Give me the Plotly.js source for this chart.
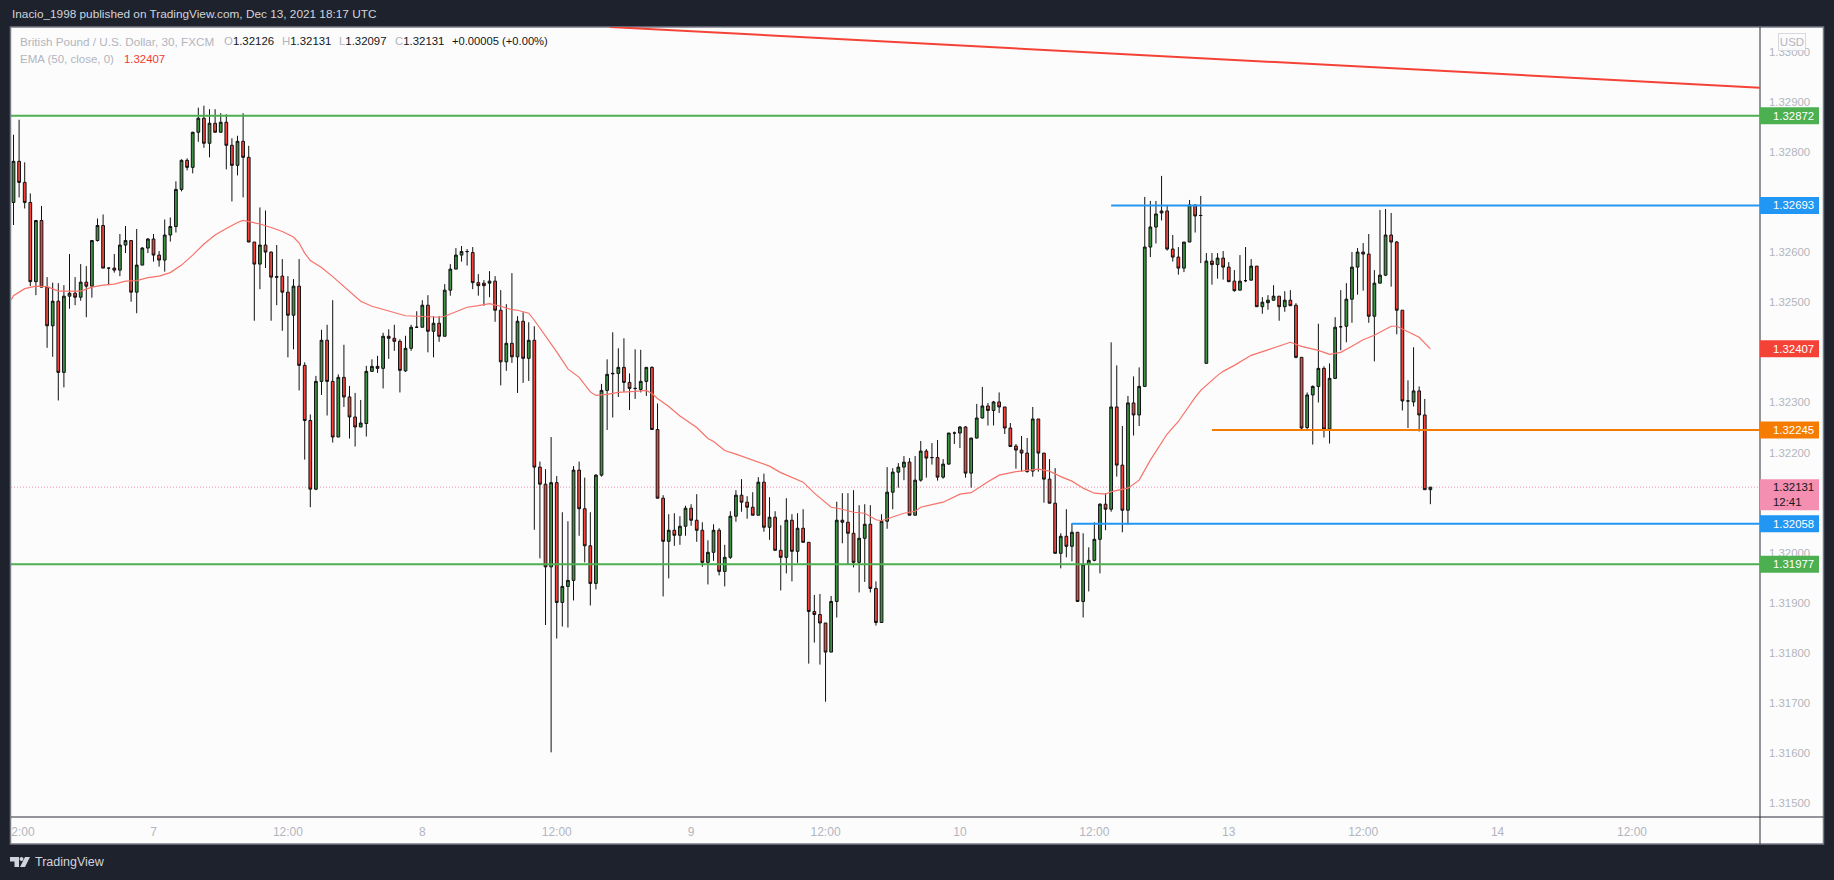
<!DOCTYPE html>
<html>
<head>
<meta charset="utf-8">
<script src="https://cdn.plot.ly/plotly-3.0.1.min.js"></script>
<style>
  html, body { margin: 0; padding: 0; background: #1e222d; }
  #chart { width: 1834px; height: 880px; }
</style>
</head>
<body>
<div id="chart"></div>
<script>
// GBP/USD 30 minute bars (bar 0 is the first one on the left)
const opens = [
  1.32699,1.32781,1.32739,1.32699,1.32541,1.32663,1.32530,1.32453,1.32502,1.32360,
  1.32512,1.32518,1.32510,1.32540,1.32532,1.32623,1.32653,1.32568,1.32568,1.32564,
  1.32614,1.32623,1.32520,1.32574,1.32608,1.32626,1.32594,1.32584,1.32634,1.32651,
  1.32725,1.32783,1.32769,1.32839,1.32867,1.32817,1.32857,1.32839,1.32859,1.32813,
  1.32773,1.32821,1.32789,1.32620,1.32576,1.32614,1.32600,1.32551,1.32552,1.32520,
  1.32474,1.32532,1.32374,1.32264,1.32127,1.32342,1.32424,1.32342,1.32231,1.32350,
  1.32311,1.32271,1.32251,1.32258,1.32362,1.32372,1.32368,1.32432,1.32428,1.32422,
  1.32363,1.32408,1.32450,1.32450,1.32494,1.32442,1.32458,1.32432,1.32524,1.32566,
  1.32594,1.32601,1.32599,1.32539,1.32538,1.32538,1.32542,1.32484,1.32381,1.32418,
  1.32391,1.32462,1.32388,1.32424,1.32171,1.32137,1.31972,1.32140,1.31901,1.31933,
  1.31945,1.32165,1.32088,1.32014,1.31939,1.32155,1.32324,1.32357,1.32358,1.32370,
  1.32340,1.32328,1.32326,1.32342,1.32370,1.32246,1.32109,1.32023,1.32045,1.32035,
  1.32053,1.32089,1.32065,1.32045,1.31981,1.32001,1.32045,1.31963,1.31991,1.32073,
  1.32115,1.32101,1.32091,1.32075,1.32141,1.32051,1.32071,1.32005,1.31991,1.32065,
  1.32003,1.32049,1.32021,1.31883,1.31877,1.31860,1.31802,1.31903,1.32065,1.32061,
  1.32039,1.31981,1.32029,1.32057,1.31929,1.31861,1.32063,1.32121,1.32161,1.32171,
  1.32181,1.32075,1.32145,1.32203,1.32190,1.32190,1.32151,1.32177,1.32239,1.32239,
  1.32251,1.32159,1.32229,1.32269,1.32293,1.32284,1.32301,1.32291,1.32249,1.32213,
  1.32205,1.32199,1.32163,1.32267,1.32199,1.32147,1.32099,1.31999,1.32033,1.32013,
  1.32041,1.31903,1.31977,1.31985,1.32027,1.32097,1.32087,1.32291,1.32175,1.32085,
  1.32299,1.32275,1.32332,1.32610,1.32650,1.32678,1.32682,1.32606,1.32590,1.32568,
  1.32620,1.32694,1.32673,1.32378,1.32582,1.32575,1.32588,1.32570,1.32542,1.32524,
  1.32543,1.32544,1.32572,1.32491,1.32499,1.32504,1.32512,1.32491,1.32504,1.32494,
  1.32390,1.32250,1.32315,1.32332,1.32368,1.32247,1.32348,1.32451,1.32452,1.32506,
  1.32570,1.32600,1.32596,1.32472,1.32538,1.32554,1.32634,1.32620,1.32484,1.32303,
  1.32301,1.32323,1.32275,1.32126];
const highs = [
  1.32834,1.32864,1.32779,1.32717,1.32664,1.32692,1.32550,1.32539,1.32538,1.32534,
  1.32596,1.32550,1.32576,1.32572,1.32624,1.32667,1.32675,1.32568,1.32596,1.32636,
  1.32652,1.32623,1.32646,1.32610,1.32628,1.32636,1.32602,1.32665,1.32669,1.32741,
  1.32785,1.32787,1.32840,1.32888,1.32892,1.32885,1.32885,1.32877,1.32875,1.32827,
  1.32832,1.32877,1.32812,1.32620,1.32689,1.32683,1.32601,1.32614,1.32586,1.32552,
  1.32546,1.32586,1.32380,1.32276,1.32353,1.32445,1.32455,1.32504,1.32356,1.32415,
  1.32333,1.32319,1.32305,1.32373,1.32386,1.32393,1.32439,1.32446,1.32455,1.32426,
  1.32433,1.32455,1.32482,1.32504,1.32514,1.32472,1.32472,1.32536,1.32576,1.32608,
  1.32612,1.32606,1.32610,1.32556,1.32544,1.32562,1.32552,1.32524,1.32496,1.32558,
  1.32472,1.32480,1.32460,1.32452,1.32182,1.32167,1.32231,1.32153,1.32081,1.32063,
  1.32173,1.32182,1.32150,1.32081,1.32157,1.32337,1.32386,1.32440,1.32408,1.32428,
  1.32358,1.32406,1.32405,1.32370,1.32372,1.32298,1.32115,1.32077,1.32079,1.32073,
  1.32094,1.32097,1.32117,1.32061,1.32025,1.32057,1.32049,1.32016,1.32083,1.32125,
  1.32147,1.32113,1.32121,1.32151,1.32158,1.32111,1.32083,1.32055,1.32109,1.32077,
  1.32079,1.32087,1.32021,1.31916,1.31918,1.31860,1.31914,1.32102,1.32119,1.32119,
  1.32125,1.32095,1.32097,1.32095,1.31943,1.32077,1.32171,1.32169,1.32179,1.32193,
  1.32189,1.32193,1.32223,1.32207,1.32219,1.32225,1.32187,1.32239,1.32242,1.32253,
  1.32253,1.32229,1.32297,1.32331,1.32299,1.32303,1.32320,1.32291,1.32259,1.32217,
  1.32233,1.32229,1.32291,1.32267,1.32199,1.32187,1.32169,1.32039,1.32087,1.32059,
  1.32041,1.32039,1.32011,1.32061,1.32099,1.32119,1.32420,1.32374,1.32253,1.32313,
  1.32352,1.32370,1.32710,1.32702,1.32702,1.32752,1.32694,1.32634,1.32610,1.32620,
  1.32704,1.32694,1.32712,1.32598,1.32598,1.32598,1.32602,1.32580,1.32564,1.32594,
  1.32610,1.32586,1.32572,1.32510,1.32514,1.32534,1.32512,1.32522,1.32524,1.32498,
  1.32390,1.32320,1.32334,1.32457,1.32372,1.32378,1.32470,1.32524,1.32538,1.32600,
  1.32608,1.32618,1.32636,1.32564,1.32684,1.32686,1.32678,1.32622,1.32484,1.32344,
  1.32410,1.32332,1.32307,1.32131];
const lows = [
  1.32654,1.32709,1.32687,1.32532,1.32514,1.32530,1.32409,1.32391,1.32304,1.32330,
  1.32487,1.32494,1.32503,1.32470,1.32509,1.32621,1.32568,1.32534,1.32559,1.32552,
  1.32598,1.32501,1.32478,1.32574,1.32598,1.32581,1.32571,1.32561,1.32621,1.32639,
  1.32721,1.32763,1.32757,1.32820,1.32808,1.32789,1.32839,1.32839,1.32765,1.32701,
  1.32753,1.32709,1.32620,1.32463,1.32526,1.32568,1.32463,1.32494,1.32443,1.32390,
  1.32406,1.32324,1.32186,1.32091,1.32125,1.32315,1.32274,1.32220,1.32231,1.32291,
  1.32228,1.32212,1.32251,1.32232,1.32361,1.32359,1.32328,1.32387,1.32403,1.32320,
  1.32361,1.32403,1.32450,1.32450,1.32400,1.32390,1.32421,1.32432,1.32513,1.32566,
  1.32581,1.32573,1.32526,1.32513,1.32493,1.32510,1.32461,1.32334,1.32363,1.32379,
  1.32319,1.32339,1.32343,1.32046,1.31989,1.31856,1.31602,1.31829,1.31853,1.31851,
  1.31905,1.32034,1.31981,1.31895,1.31927,1.32152,1.32245,1.32270,1.32311,1.32321,
  1.32285,1.32307,1.32320,1.32313,1.32246,1.32109,1.31913,1.31949,1.32014,1.32016,
  1.32034,1.32054,1.32022,1.31972,1.31937,1.31984,1.31955,1.31933,1.31988,1.32062,
  1.32082,1.32068,1.32075,1.32075,1.32042,1.32026,1.32005,1.31925,1.31959,1.31943,
  1.31980,1.32021,1.31779,1.31821,1.31777,1.31703,1.31802,1.31871,1.32019,1.31976,
  1.31971,1.31921,1.31942,1.31921,1.31855,1.31861,1.32048,1.32087,1.32130,1.32145,
  1.32075,1.32075,1.32142,1.32150,1.32176,1.32144,1.32148,1.32176,1.32217,1.32209,
  1.32150,1.32130,1.32228,1.32268,1.32254,1.32254,1.32279,1.32237,1.32212,1.32168,
  1.32162,1.32160,1.32152,1.32162,1.32100,1.32099,1.31999,1.31969,1.31991,1.31983,
  1.31903,1.31871,1.31923,1.31983,1.31959,1.32045,1.32082,1.32152,1.32041,1.32056,
  1.32234,1.32253,1.32332,1.32590,1.32617,1.32663,1.32603,1.32581,1.32555,1.32560,
  1.32620,1.32639,1.32578,1.32378,1.32535,1.32547,1.32545,1.32540,1.32521,1.32524,
  1.32540,1.32543,1.32491,1.32477,1.32485,1.32503,1.32463,1.32481,1.32493,1.32388,
  1.32246,1.32244,1.32216,1.32300,1.32230,1.32218,1.32347,1.32404,1.32420,1.32459,
  1.32515,1.32523,1.32459,1.32382,1.32538,1.32552,1.32531,1.32436,1.32284,1.32249,
  1.32292,1.32242,1.32126,1.32097];
const closes = [
  1.32781,1.32739,1.32699,1.32541,1.32663,1.32530,1.32453,1.32502,1.32360,1.32512,
  1.32518,1.32510,1.32540,1.32532,1.32623,1.32653,1.32568,1.32568,1.32564,1.32614,
  1.32623,1.32520,1.32574,1.32608,1.32626,1.32594,1.32584,1.32634,1.32651,1.32725,
  1.32783,1.32769,1.32839,1.32867,1.32817,1.32857,1.32839,1.32859,1.32813,1.32773,
  1.32821,1.32789,1.32620,1.32576,1.32614,1.32600,1.32550,1.32550,1.32520,1.32474,
  1.32532,1.32374,1.32264,1.32127,1.32342,1.32424,1.32342,1.32231,1.32350,1.32311,
  1.32271,1.32251,1.32259,1.32362,1.32372,1.32368,1.32432,1.32428,1.32422,1.32364,
  1.32408,1.32450,1.32450,1.32494,1.32442,1.32458,1.32432,1.32524,1.32566,1.32594,
  1.32601,1.32601,1.32539,1.32533,1.32533,1.32542,1.32484,1.32381,1.32418,1.32391,
  1.32462,1.32388,1.32424,1.32171,1.32137,1.31972,1.32140,1.31901,1.31933,1.31945,
  1.32165,1.32088,1.32014,1.31939,1.32155,1.32324,1.32356,1.32358,1.32370,1.32340,
  1.32328,1.32328,1.32342,1.32370,1.32246,1.32109,1.32023,1.32045,1.32035,1.32053,
  1.32089,1.32065,1.32045,1.31981,1.32001,1.32045,1.31963,1.31991,1.32073,1.32115,
  1.32101,1.32091,1.32075,1.32141,1.32051,1.32071,1.32005,1.31991,1.32065,1.32003,
  1.32049,1.32021,1.31883,1.31877,1.31860,1.31802,1.31903,1.32065,1.32061,1.32039,
  1.31981,1.32029,1.32057,1.31929,1.31861,1.32063,1.32121,1.32161,1.32171,1.32181,
  1.32075,1.32145,1.32203,1.32189,1.32190,1.32151,1.32177,1.32239,1.32239,1.32251,
  1.32159,1.32229,1.32269,1.32293,1.32284,1.32301,1.32291,1.32249,1.32212,1.32205,
  1.32199,1.32162,1.32267,1.32199,1.32147,1.32099,1.31999,1.32033,1.32013,1.32041,
  1.31903,1.31977,1.31985,1.32027,1.32097,1.32087,1.32291,1.32175,1.32085,1.32299,
  1.32275,1.32332,1.32610,1.32650,1.32676,1.32682,1.32606,1.32590,1.32568,1.32620,
  1.32694,1.32672,1.32673,1.32582,1.32575,1.32588,1.32570,1.32541,1.32523,1.32542,
  1.32543,1.32572,1.32491,1.32500,1.32504,1.32512,1.32491,1.32504,1.32493,1.32390,
  1.32249,1.32315,1.32332,1.32368,1.32247,1.32348,1.32450,1.32451,1.32506,1.32570,
  1.32600,1.32596,1.32472,1.32538,1.32554,1.32634,1.32620,1.32484,1.32303,1.32303,
  1.32323,1.32275,1.32126,1.32131];

// EMA 50 line, read at these bars
const emaBars = [-0.4,0,2,4,6,8,10,12,14,16,18,20,22,24,26,28,30,32,34,36,38,40,41,42,44,46,48,50,51,52,53,54,
  55,57,59,61,62,64,66,68,70,72,76,77,79,81,83,85,87,89,90,92,93,95,97,99,101,103,104,
  106,108,111,113,114,115,117,119,122,124,125,127,129,131,133,135,137,139,141,143,145,146,148,150,152,154,155,157,159,161,
  162,164,166,169,171,174,176,179,183,185,187,189,191,193,195,196,198,199,201,203,206,208,211,212,215,
  216,218,221,224,228,230,233,235,237,239,241,243,246,247,249,251,253];
const emaValues = [1.32505,1.32513,1.32527,1.32532,1.32531,1.32522,1.32522,1.32522,1.32530,1.32534,1.32536,1.32542,1.32543,1.32549,1.32552,1.32559,1.32574,1.32594,1.32616,1.32634,1.32647,1.32659,1.32663,1.32661,1.32656,1.32649,1.32641,1.32630,1.32618,1.32598,1.32583,1.32576,
  1.32569,1.32551,1.32531,1.32512,1.32502,1.32492,1.32486,1.32480,1.32473,1.32472,1.32470,1.32472,1.32481,1.32490,1.32493,1.32497,1.32492,1.32485,1.32484,1.32478,1.32464,1.32433,1.32401,1.32367,1.32350,1.32321,1.32314,
  1.32316,1.32320,1.32322,1.32324,1.32318,1.32308,1.32292,1.32273,1.32250,1.32228,1.32222,1.32204,1.32197,1.32189,1.32182,1.32173,1.32160,1.32151,1.32141,1.32119,1.32099,1.32091,1.32087,1.32081,1.32079,1.32066,1.32064,1.32072,1.32079,1.32083,
  1.32091,1.32096,1.32101,1.32117,1.32120,1.32142,1.32155,1.32162,1.32167,1.32163,1.32152,1.32143,1.32129,1.32119,1.32117,1.32122,1.32126,1.32129,1.32145,1.32185,1.32237,1.32262,1.32310,1.32324,1.32354,
  1.32362,1.32374,1.32394,1.32405,1.32420,1.32412,1.32404,1.32396,1.32400,1.32412,1.32425,1.32434,1.32452,1.32452,1.32441,1.32430,1.32407];

// drawn levels: price, first bar, colour
const levelPrices = [1.32872, 1.32693, 1.32245, 1.32058, 1.31977];
const levelStarts = [-0.45, 196, 214, 189, -0.45];
const levelColors = ["#4caf50", "#2196f3", "#f57c00", "#2196f3", "#4caf50"];
const trendBars = [106.5, 311.9];
const trendPrices = [1.33049, 1.32928];
const lastPrice = 1.32131;
const emaLast = 1.32407;

// 1.327, 1.324 and 1.321 sit under the badges, the scale leaves them out
const priceTicks = [1.315, 1.316, 1.317, 1.318, 1.319, 1.32, 1.322, 1.323, 1.325, 1.326, 1.328, 1.329, 1.33];
const timeTicks = [1.7, 25, 49, 73, 97, 121, 145, 169, 193, 217, 241, 265, 289];
const timeLabels = ["2:00", "7", "12:00", "8", "12:00", "9", "12:00", "10", "12:00", "13", "12:00", "14", "12:00"];

const xs = opens.map((_, i) => i);

// frame of the plot in page pixels
const L = 11, R = 1760, T = 27, B = 817;
const px = (x) => (x - L) / (R - L);
const py = (y) => (B - y) / (B - T);

const GREY = "#b2b5be";
const FONT = "'Liberation Sans', Arial, sans-serif";
const NUM = 11.4; // size of the price numbers

const candles = {
  type: "candlestick",
  x: xs, open: opens, high: highs, low: lows, close: closes,
  increasing: { line: { color: "#111111", width: 1 }, fillcolor: "#3d9142" },
  decreasing: { line: { color: "#111111", width: 1 }, fillcolor: "#f4433a" },
  whiskerwidth: 0,
  hoverinfo: "skip",
};

const ema = {
  type: "scatter", mode: "lines",
  x: emaBars, y: emaValues,
  line: { color: "#f7726a", width: 1.2 },
  hoverinfo: "skip",
};

const shapes = [];
// white panel behind plot and scales
shapes.push({ type: "rect", xref: "paper", yref: "paper", layer: "below",
  x0: px(10.5), x1: px(1823.5), y0: py(844), y1: py(27),
  fillcolor: "#fcfcfc", line: { color: "#787b86", width: 1.5 } });
// last price dotted line
shapes.push({ type: "line", xref: "paper", yref: "y", layer: "below",
  x0: 0, x1: 1, y0: lastPrice, y1: lastPrice, line: { color: "#f48fb1", width: 1, dash: "1px,2px" } });
// scale separators
shapes.push({ type: "line", xref: "paper", yref: "paper", x0: 1, x1: 1, y0: py(844), y1: py(27), line: { color: "#2a2e39", width: 1 } });
shapes.push({ type: "line", xref: "paper", yref: "paper", x0: 0, x1: px(1823.5), y0: 0, y1: 0, line: { color: "#2a2e39", width: 1 } });

levelPrices.forEach((p, i) => {
  shapes.push({ type: "line", xref: "x", yref: "y", x0: levelStarts[i], x1: 311.9, y0: p, y1: p,
    line: { color: levelColors[i], width: 2 } });
});
shapes.push({ type: "line", xref: "x", yref: "y", x0: trendBars[0], x1: trendBars[1], y0: trendPrices[0], y1: trendPrices[1],
  line: { color: "#f44336", width: 2 } });

const annotations = [];
function label(text, x, y, size, color, extra) {
  annotations.push(Object.assign({ text: text, xref: "paper", yref: "paper", x: px(x), y: py(y), xanchor: "left", yanchor: "middle",
    showarrow: false, font: { family: FONT, size: size, color: color } }, extra || {}));
}

// price badges on the scale
function badge(price, color, textColor, up, down, text, shift) {
  shapes.push({ type: "rect", xref: "paper", yref: "y", ysizemode: "pixel", yanchor: price,
    x0: 1, x1: px(1819), y0: up, y1: down, fillcolor: color, line: { width: 0 } });
  annotations.push({ text: text || price.toFixed(5), xref: "paper", yref: "y", x: px(1770.5), y: price, yshift: shift || 0, align: "left",
    xanchor: "left", yanchor: "middle", showarrow: false, font: { family: FONT, size: NUM, color: textColor } });
}
levelPrices.forEach((p, i) => badge(p, levelColors[i], "#ffffff", 8.5, -8.5));
badge(emaLast, "#f44336", "#ffffff", 8.5, -8.5);
badge(lastPrice, "#f48fb1", "#131722", 8, -23, lastPrice.toFixed(5) + "<br>12:41", -7.5);

const black = (s) => '<span style="color:#131722">' + s + "</span>";
label("Inacio_1998 published on TradingView.com, Dec 13, 2021 18:17 UTC", 10, 14.5, 11.8, "#d1d4dc");
label("British Pound / U.S. Dollar, 30, FXCM", 18, 41.5, 11.7, GREY);
label("O" + black("1.32126"), 222, 41.5, NUM, GREY);
label("H" + black("1.32131"), 280, 41.5, NUM, GREY);
label("L" + black("1.32097"), 337, 41.5, NUM, GREY);
label("C" + black("1.32131"), 393, 41.5, NUM, GREY);
label(black("+0.00005 (+0.00%)"), 450, 41.5, 11.2, GREY);
label("EMA (50, close, 0)", 18, 59, 11.5, GREY);
label(emaLast.toFixed(5), 122, 59, NUM, "#f23b30");
label("TradingView", 33, 862, 12.5, "#d1d4dc");
annotations.push({ text: "USD", xref: "paper", yref: "paper", x: px(1792), y: py(42), xanchor: "center", yanchor: "middle",
  width: 26, height: 16, bgcolor: "rgba(252,252,252,0.88)", bordercolor: "#d6d8df", borderwidth: 1, borderpad: 0,
  showarrow: false, font: { family: FONT, size: 11.5, color: GREY } });

// logo
const poly = (pts) => "M" + pts.map((p) => px(p[0]) + "," + py(p[1])).join("L") + "Z";
[[[10, 857], [19, 857], [19, 867], [14.5, 867], [14.5, 861.5], [10, 861.5]],
 [[25, 857], [30, 857], [25, 867], [20, 867]]].forEach((pts) => {
  shapes.push({ type: "path", xref: "paper", yref: "paper", path: poly(pts), fillcolor: "#d1d4dc", line: { width: 0 } });
});
shapes.push({ type: "circle", xref: "paper", yref: "paper", x0: px(19.5), x1: px(23.5), y0: py(861), y1: py(857), fillcolor: "#d1d4dc", line: { width: 0 } });

const layout = {
  width: 1834, height: 880,
  margin: { l: L, r: 1834 - R, t: T, b: 880 - B, pad: 0 },
  paper_bgcolor: "#1e222d",
  plot_bgcolor: "rgba(0,0,0,0)",
  showlegend: false,
  boxgap: 0.3,
  xaxis: {
    type: "linear", range: [-0.446, 311.86], fixedrange: true,
    rangeslider: { visible: false },
    showgrid: false, zeroline: false, showline: false,
    tickmode: "array", tickvals: timeTicks, ticktext: timeLabels, ticks: "", ticklabelstandoff: 6,
    tickfont: { family: FONT, size: 12, color: GREY },
  },
  yaxis: {
    side: "right", range: [1.31473, 1.33049], fixedrange: true,
    showgrid: false, zeroline: false, showline: false,
    tickmode: "array", tickvals: priceTicks, ticktext: priceTicks.map((v) => v.toFixed(5)), ticks: "", ticklabelstandoff: 8,
    tickfont: { family: FONT, size: NUM, color: GREY },
  },
  shapes: shapes,
  annotations: annotations,
};

Plotly.newPlot("chart", [candles, ema], layout, { displayModeBar: false, staticPlot: true });
</script>
</body>
</html>
